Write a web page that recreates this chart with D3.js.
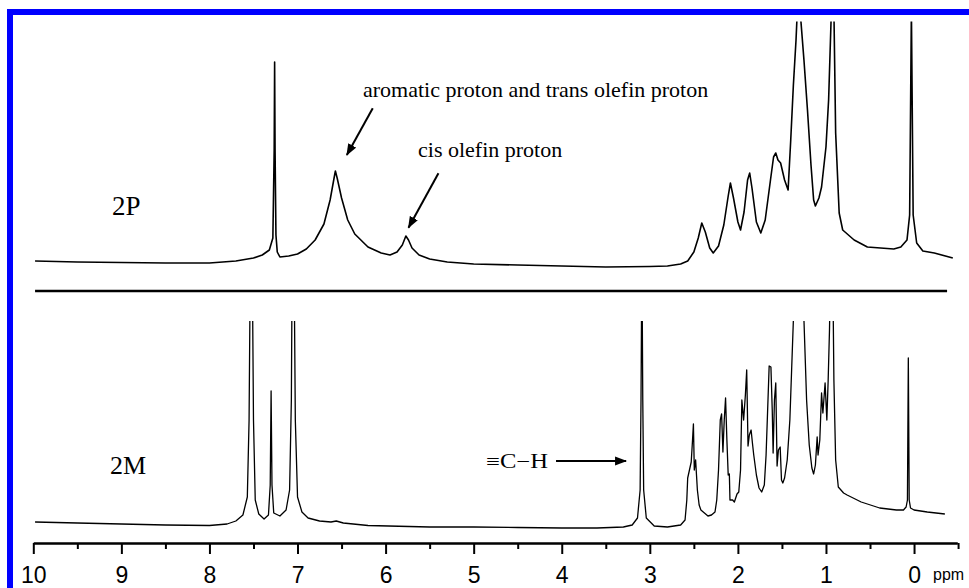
<!DOCTYPE html>
<html>
<head>
<meta charset="utf-8">
<script src="https://cdn.jsdelivr.net/npm/d3@7/dist/d3.min.js"></script>
<style>
  html, body { margin: 0; padding: 0; background: #fff; }
  svg { display: block; }
</style>
</head>
<body>
<svg id="chart" width="969" height="588"></svg>
<script>
// ---------- DATA ----------
// 2P spectrum (upper trace): chemical shift (ppm) and relative intensity
const ppm2P = [9.98,9.5,9.0,8.5,8.0,7.7,7.5,7.40,7.32,7.28,7.265,7.26,7.255,7.245,7.23,7.20,7.10,7.00,6.90,6.80,6.70,6.63,6.585,6.57,6.55,6.50,6.43,6.35,6.20,6.05,5.95,5.87,5.81,5.77,5.74,5.70,5.62,5.50,5.30,5.00,4.50,4.00,3.50,3.00,2.80,2.65,2.57,2.50,2.45,2.41,2.37,2.32,2.28,2.22,2.16,2.11,2.085,2.05,2.00,1.97,1.93,1.89,1.866,1.84,1.79,1.74,1.69,1.63,1.595,1.57,1.545,1.515,1.47,1.43,1.40,1.37,1.34,1.31,1.29,1.25,1.21,1.17,1.14,1.12,1.08,1.05,1.00,0.97,0.935,0.91,0.89,0.85,0.81,0.68,0.53,0.23,0.15,0.08,0.05,0.03,0.01,-0.03,-0.10,-0.23,-0.44];
const int2P = [9,8,7.5,7,7,9,12,15,20,32,120,208,120,35,18,13,14,16,21,30,46,70,92,99,92,72,50,36,23,17,15,18,25,34,30,22,15,11,8,6,5,4,3,3.5,4,6,9,18,32,47,38,22,17,24,45,74,87,72,48,40,58,90,97,82,48,37,50,90,113,117,110,107,90,80,130,185,230,290,255,210,160,105,70,64,72,83,123,170,270,260,137,57,40,30,23,21,23,30,55,260,55,27,19,17,12];

// 2M spectrum (lower trace)
const ppm2M = [9.98,9.5,9.0,8.5,8.0,7.8,7.7,7.62,7.57,7.55,7.535,7.515,7.50,7.48,7.44,7.38,7.33,7.31,7.30,7.29,7.27,7.20,7.13,7.09,7.07,7.06,7.04,7.025,7.00,6.95,6.88,6.75,6.62,6.56,6.48,6.2,5.5,5.0,4.5,4.0,3.6,3.3,3.2,3.14,3.11,3.10,3.09,3.08,3.07,3.04,2.95,2.8,2.65,2.6,2.58,2.57,2.55,2.53,2.515,2.505,2.495,2.48,2.47,2.46,2.44,2.42,2.38,2.34,2.30,2.26,2.24,2.22,2.20,2.185,2.17,2.155,2.14,2.125,2.11,2.097,2.09,2.06,2.04,2.01,1.99,1.97,1.955,1.935,1.915,1.90,1.885,1.87,1.85,1.835,1.82,1.79,1.76,1.73,1.70,1.68,1.665,1.645,1.625,1.61,1.60,1.585,1.57,1.555,1.54,1.52,1.505,1.49,1.47,1.44,1.41,1.39,1.37,1.34,1.31,1.28,1.25,1.22,1.19,1.16,1.14,1.12,1.10,1.09,1.07,1.05,1.035,1.01,0.99,0.975,0.96,0.945,0.925,0.91,0.89,0.86,0.80,0.76,0.60,0.39,0.20,0.12,0.09,0.075,0.065,0.055,0.04,0.00,-0.15,-0.35];
const int2M = [8,7,6,5,4.5,6,9,15,33,110,280,280,110,30,16,11,15,45,139,45,17,14,20,40,130,280,280,110,33,18,12,9,8,9,7,4.5,3,3,2.5,2,2,3,5,12,40,130,280,130,40,12,4,3,5,10,30,52,60,68,90,106,60,70,55,40,25,20,17,14,15,18,30,60,110,116,78,110,132,90,55,56,30,30,28,36,38,60,130,110,135,160,84,95,100,87,75,55,42,38,45,75,113,164,163,120,77,130,147,64,80,83,50,47,52,70,110,160,210,310,350,300,210,130,85,62,56,65,93,75,90,137,117,147,110,150,200,280,280,150,70,43,37,35,28,22,20,20,23,30,172,30,22,20,18,16];

// axis ticks
const majorTicks = [10,9,8,7,6,5,4,3,2,1,0];
const minorTicks = [9.5,8.5,7.5,6.5,5.5,4.5,3.5,2.5,1.5,0.5,-0.5];
const axisUnit = "ppm";

// trace labels
const traceLabels = ["2P", "2M"];

// annotation texts
const annoTexts = ["aromatic proton and trans olefin proton", "cis olefin proton", "\u2261C\u2212H"];

// ---------- SCALES ----------
const svg = d3.select("#chart");
const x = d3.scaleLinear().domain([10, -0.49]).range([33.3, 957.2]);
const yTop = d3.scaleLinear().domain([0, 250]).range([270, 20]);
const yBot = d3.scaleLinear().domain([0, 250]).range([530, 280]);

// blue frame
svg.append("rect")
  .attr("x", 10).attr("y", 12)
  .attr("width", 1000).attr("height", 700)
  .attr("fill", "none")
  .attr("stroke", "#0000ff")
  .attr("stroke-width", 6);

// clip paths
const defs = svg.append("defs");
defs.append("clipPath").attr("id", "clipTop")
  .append("rect").attr("x", 0).attr("y", 21.5).attr("width", 969).attr("height", 270);
defs.append("clipPath").attr("id", "clipBot")
  .append("rect").attr("x", 0).attr("y", 321).attr("width", 969).attr("height", 230);

const mk = defs.append("marker").attr("id", "arrow")
  .attr("viewBox", "0 -5 12 10")
  .attr("refX", 11).attr("refY", 0)
  .attr("markerWidth", 12).attr("markerHeight", 10)
  .attr("markerUnits", "userSpaceOnUse")
  .attr("orient", "auto");
mk.append("path").attr("d", "M0,-4.5L12,0L0,4.5Z").attr("fill", "#000");

// ---------- TRACES ----------
const d2P = ppm2P.map((p, i) => [p, int2P[i]]);
const d2M = ppm2M.map((p, i) => [p, int2M[i]]);

svg.append("path")
  .datum(d2P)
  .attr("clip-path", "url(#clipTop)")
  .attr("fill", "none")
  .attr("stroke", "#000")
  .attr("stroke-width", 1.6)
  .attr("stroke-linejoin", "round")
  .attr("d", d3.line().x(d => x(d[0])).y(d => yTop(d[1])));

svg.append("path")
  .datum(d2M)
  .attr("clip-path", "url(#clipBot)")
  .attr("fill", "none")
  .attr("stroke", "#000")
  .attr("stroke-width", 1.3)
  .attr("stroke-linejoin", "round")
  .attr("d", d3.line().x(d => x(d[0])).y(d => yBot(d[1])));

// separator line between panels
svg.append("line")
  .attr("x1", x(9.98)).attr("x2", x(-0.375))
  .attr("y1", 291).attr("y2", 291)
  .attr("stroke", "#000").attr("stroke-width", 2.5);

// ---------- AXIS ----------
const axisY = 543;
const gMinor = svg.append("g").attr("transform", `translate(0,${axisY})`)
  .call(d3.axisBottom(x).tickValues(minorTicks).tickSize(6).tickSizeOuter(0).tickFormat(""));
const gMajor = svg.append("g").attr("transform", `translate(0,${axisY})`)
  .call(d3.axisBottom(x).tickValues(majorTicks).tickSize(11).tickSizeOuter(0).tickPadding(13).tickFormat(d3.format("d")));
[gMinor, gMajor].forEach(g => {
  g.select(".domain").attr("stroke", "#000").attr("stroke-width", 2.2);
  g.selectAll(".tick line").attr("stroke", "#000").attr("stroke-width", 2);
});
gMajor.selectAll(".tick text")
  .attr("font-family", "'Liberation Sans', Arial, sans-serif")
  .attr("font-size", 23)
  .attr("fill", "#000");

svg.append("text")
  .attr("x", 933).attr("y", 580)
  .attr("font-family", "'Liberation Sans', Arial, sans-serif")
  .attr("font-size", 16)
  .text(axisUnit);

// ---------- LABELS ----------
const serif = "'Liberation Serif', 'Times New Roman', serif";
svg.append("text").attr("x", 112).attr("y", 215)
  .attr("font-family", serif).attr("font-size", 27).text(traceLabels[0]);
svg.append("text").attr("x", 110).attr("y", 474)
  .attr("font-family", serif).attr("font-size", 26).text(traceLabels[1]);

svg.append("text").attr("x", 363).attr("y", 97)
  .attr("font-family", serif).attr("font-size", 22).text(annoTexts[0]);
svg.append("text").attr("x", 418).attr("y", 157)
  .attr("font-family", serif).attr("font-size", 22).text(annoTexts[1]);
svg.append("text").attr("x", 486).attr("y", 468)
  .attr("font-family", serif).attr("font-size", 20)
  .attr("textLength", 62).attr("lengthAdjust", "spacingAndGlyphs")
  .text(annoTexts[2]);

// arrows
const arrows = [
  {p1: [6.146, 161.7], p2: [6.44, 115], y: yTop},
  {p1: [5.40, 96.7], p2: [5.74, 42.3], y: yTop},
  {p1: [4.065, 69], p2: [3.27, 69], y: yBot}
];
arrows.forEach(a => {
  svg.append("line")
    .attr("x1", x(a.p1[0])).attr("y1", a.y(a.p1[1]))
    .attr("x2", x(a.p2[0])).attr("y2", a.y(a.p2[1]))
    .attr("stroke", "#000").attr("stroke-width", 2)
    .attr("marker-end", "url(#arrow)");
});
</script>
</body>
</html>
